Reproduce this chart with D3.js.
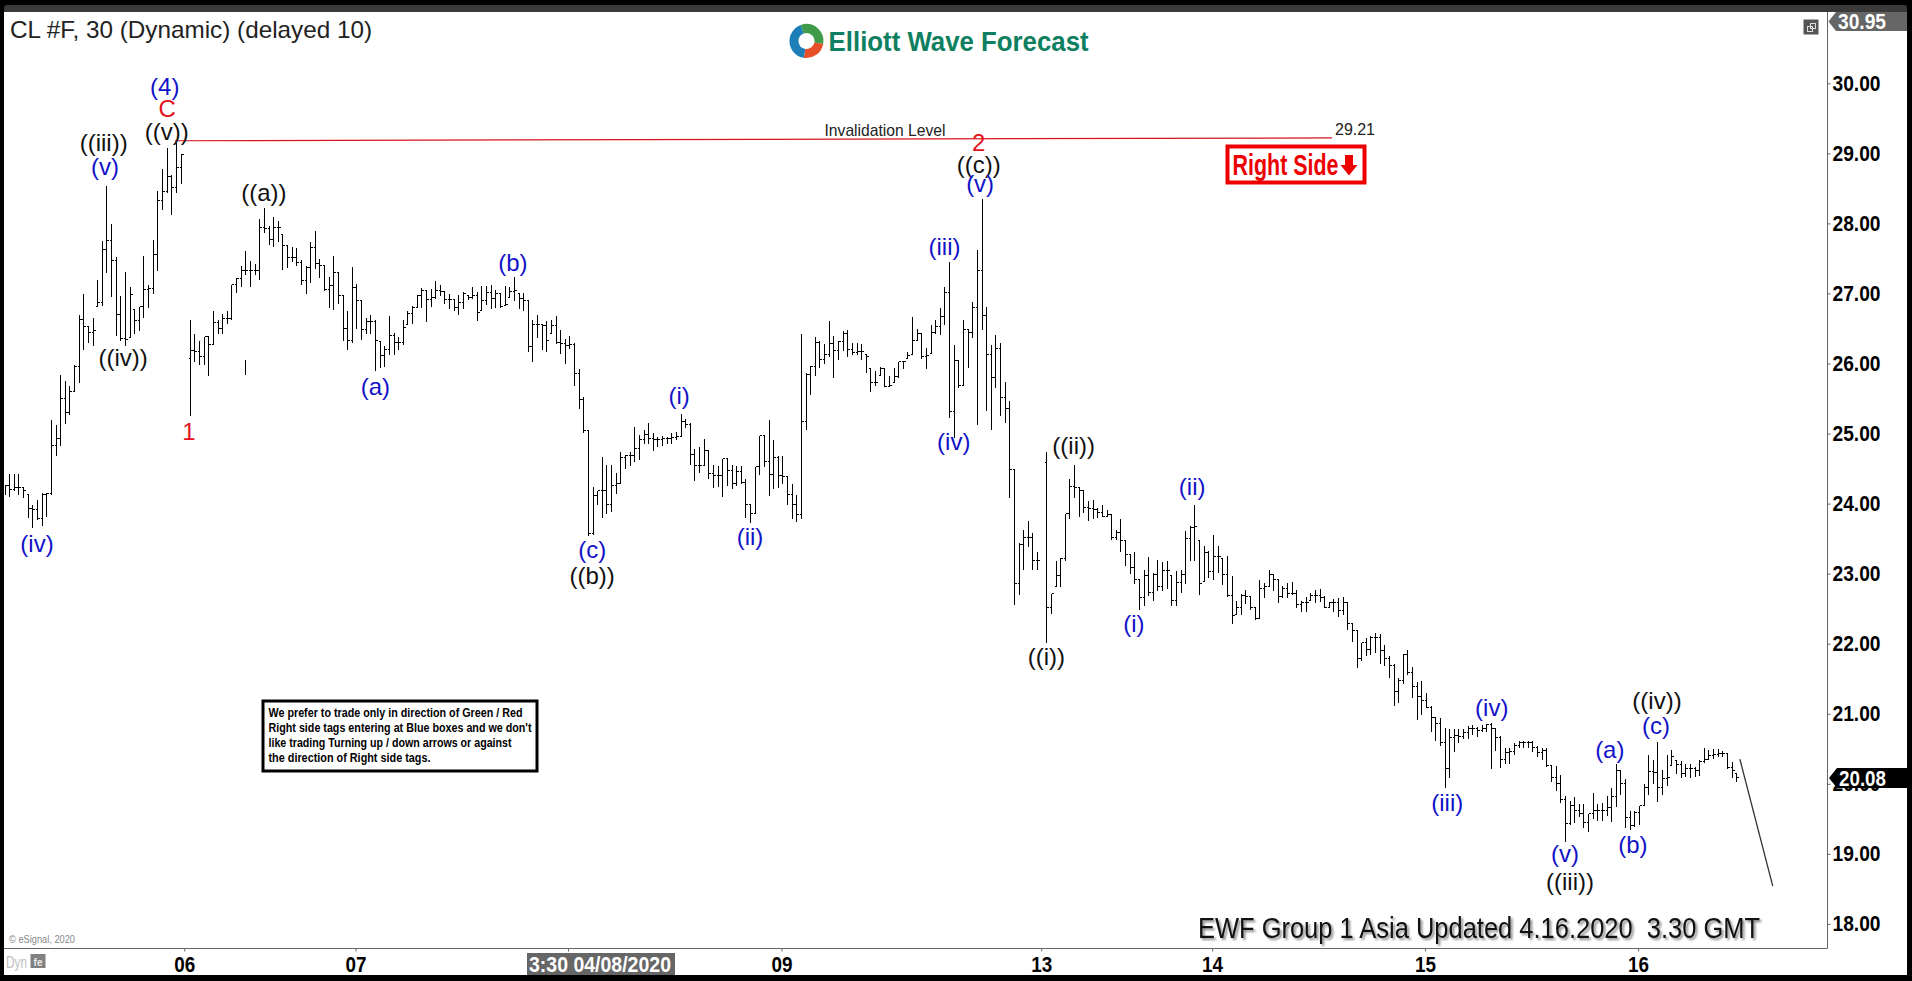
<!DOCTYPE html>
<html><head><meta charset="utf-8">
<script src="https://cdnjs.cloudflare.com/ajax/libs/d3/7.8.5/d3.min.js"></script>
<style>html,body{margin:0;padding:0;background:#000;overflow:hidden}svg{display:block}text{font-family:"Liberation Sans",Arial,sans-serif}</style>
</head><body><svg id="c" width="1912" height="981"></svg>
<script>
// 30-minute bars; null marks the empty weekend slot
const highs=[24.28,24.43,24.44,24.43,24.24,24.13,24.00,24.07,24.16,24.17,
25.21,25.14,25.85,25.76,25.70,26.00,26.71,27.00,26.54,26.66,
27.20,27.76,28.55,28.01,27.53,26.98,27.32,27.10,26.78,26.82,
27.55,27.14,27.78,28.48,28.79,29.09,28.71,29.16,29.00,null,
26.64,26.43,26.34,26.39,26.39,26.77,26.64,26.72,26.76,27.14,
27.23,27.41,27.62,27.48,27.43,28.08,28.23,27.98,28.11,28.05,
27.85,27.69,27.68,27.67,27.49,27.41,27.75,27.91,27.50,27.42,
27.25,27.55,27.31,26.99,26.76,27.39,27.15,26.92,26.67,26.71,
26.64,26.32,26.26,26.69,26.45,26.39,26.63,26.76,26.83,26.99,
27.09,27.06,27.08,27.19,27.13,27.03,27.00,26.93,26.99,27.04,
26.98,27.11,27.04,27.12,27.12,27.14,27.07,27.01,27.12,27.10,
27.25,27.00,27.02,26.92,26.64,26.70,26.57,26.62,26.63,26.69,
26.49,26.36,26.41,26.30,25.93,25.53,25.05,24.25,24.20,24.68,
24.57,24.57,24.45,24.75,24.71,24.75,25.11,25.00,25.07,25.16,
25.02,24.97,24.98,24.96,25.02,25.04,25.29,25.22,25.17,24.79,
24.82,24.93,24.77,24.57,24.55,24.65,24.65,24.56,24.55,24.55,
24.37,24.00,24.53,24.98,24.98,25.21,24.92,24.69,24.70,24.40,
24.29,24.14,26.44,25.88,25.98,26.39,26.34,26.29,26.62,26.41,
26.34,26.48,26.49,26.30,26.30,26.29,26.13,25.93,25.91,25.96,
25.95,25.83,25.95,26.03,26.05,26.18,26.68,26.50,26.45,26.24,
26.56,26.63,26.81,27.10,27.46,26.28,26.05,26.64,26.50,26.89,
27.64,28.36,26.82,26.28,26.42,26.30,25.75,25.48,24.49,23.45,
23.64,23.76,23.60,23.32,null,24.75,22.73,23.20,23.24,23.87,
24.37,24.57,24.25,24.20,24.05,24.07,23.95,24.00,23.92,23.85,
23.64,23.80,23.48,23.28,23.33,22.93,23.07,23.25,23.03,23.21,
23.18,23.19,22.98,23.05,23.07,23.62,23.69,24.00,23.48,23.41,
23.34,23.56,23.41,23.22,23.27,22.98,22.63,22.72,22.78,22.69,
22.53,22.93,22.88,23.07,23.00,22.92,22.84,22.88,22.89,22.78,
22.62,22.68,22.74,22.78,22.80,22.69,22.61,22.65,22.66,22.68,
22.61,22.30,22.19,22.03,22.10,22.12,22.16,22.15,22.00,21.84,
21.72,21.52,21.87,21.92,21.68,21.47,21.48,21.31,21.13,20.97,
20.95,20.81,20.80,20.79,20.79,20.79,20.84,20.86,20.82,20.86,
20.87,20.88,20.80,20.69,20.53,20.53,20.59,20.63,20.63,20.63,
20.62,20.55,20.52,20.52,20.27,20.27,20.14,19.84,19.77,19.82,
19.73,19.73,19.59,19.88,19.72,19.74,19.84,19.96,20.29,20.21,
20.08,19.63,19.62,19.70,20.01,20.42,20.36,20.61,20.21,20.43,
20.49,20.34,20.34,20.30,20.29,20.25,20.36,20.53,20.49,20.51,
20.51,20.48,20.46,20.32,20.16];
const lows=[24.14,24.11,24.20,24.13,24.09,23.81,23.66,23.78,23.70,23.83,
24.14,24.69,24.83,25.15,25.28,25.61,25.74,26.21,26.31,26.27,
26.82,26.83,27.31,26.97,26.40,26.33,26.26,26.38,26.43,26.48,
26.66,26.81,27.01,27.34,28.20,28.45,28.14,28.45,28.58,null,
25.27,26.03,26.00,26.00,25.83,26.28,26.43,26.43,26.58,26.64,
27.02,27.10,27.28,27.11,27.28,27.21,27.88,27.70,27.68,27.75,
27.35,27.38,27.47,27.41,27.14,27.01,27.17,27.36,27.24,27.05,
26.81,26.78,26.86,26.33,26.20,26.31,26.50,26.35,26.43,26.44,
25.91,25.95,25.97,26.14,26.13,26.21,26.28,26.57,26.58,26.81,
26.81,26.61,26.82,26.93,26.98,26.86,26.79,26.76,26.71,26.79,
26.92,26.93,26.62,26.76,26.85,26.79,26.80,26.80,26.83,26.95,
26.91,26.79,26.77,26.18,26.04,26.38,26.21,26.18,26.43,26.29,
26.15,26.01,26.22,25.69,25.37,25.02,23.55,23.57,24.00,23.81,
23.86,23.89,24.15,24.29,24.51,24.55,24.61,24.64,24.86,24.87,
24.76,24.82,24.84,24.86,24.86,24.92,24.97,25.09,24.57,24.33,
24.45,24.55,24.36,24.24,24.25,24.11,24.26,24.22,24.26,24.29,
23.81,23.74,23.86,24.42,24.53,24.12,24.22,24.23,24.30,23.99,
23.80,23.75,23.79,25.07,25.57,25.83,25.95,26.01,26.10,25.81,
26.07,26.19,26.11,26.14,26.14,26.06,25.88,25.61,25.69,25.83,
25.68,25.68,25.74,25.81,25.94,26.08,26.13,26.34,26.08,25.94,
26.15,26.43,26.42,26.57,25.24,24.95,25.67,25.69,25.95,26.38,
25.14,26.49,25.34,25.07,25.67,25.27,25.16,24.10,22.57,22.71,
23.07,23.39,23.07,23.07,null,22.02,22.44,22.83,22.83,23.19,
23.80,24.10,23.83,23.88,23.76,23.79,23.81,23.82,23.82,23.50,
23.50,23.33,23.13,23.01,22.86,22.50,22.55,22.69,22.63,22.76,
22.76,22.79,22.55,22.55,22.74,22.86,23.20,23.19,22.71,22.89,
22.95,22.92,23.03,22.85,22.68,22.30,22.42,22.42,22.58,22.49,
22.35,22.36,22.67,22.82,22.77,22.60,22.66,22.67,22.71,22.52,
22.46,22.47,22.62,22.60,22.61,22.52,22.52,22.47,22.39,22.42,
22.21,22.04,21.67,21.77,21.84,21.85,21.88,21.72,21.70,21.53,
21.13,21.17,21.44,21.57,21.24,20.93,21.00,21.09,20.76,20.62,
20.56,19.95,20.10,20.47,20.59,20.66,20.66,20.71,20.68,20.76,
20.76,20.23,20.48,20.24,20.30,20.30,20.43,20.52,20.53,20.53,
20.47,20.39,20.36,20.25,20.04,19.91,19.74,19.19,19.43,19.46,
19.54,19.38,19.33,19.51,19.48,19.48,19.55,19.47,19.68,19.86,
19.38,19.36,19.40,19.43,19.70,19.86,20.01,19.76,19.86,19.98,
20.27,20.16,20.10,20.11,20.10,20.11,20.12,20.31,20.35,20.37,
20.40,20.40,20.22,20.09,20.04];
const closes=[24.26,24.21,24.23,24.24,24.20,23.94,23.93,23.80,24.14,24.15,
24.83,24.93,25.51,25.31,25.61,25.97,26.63,26.54,26.45,26.48,
26.88,27.64,27.76,27.48,26.71,26.37,26.35,26.99,26.62,26.82,
27.07,27.08,27.57,28.34,28.46,28.68,28.52,28.80,28.99,null,
26.19,26.18,26.10,26.39,26.28,26.59,26.51,26.65,26.65,27.13,
27.22,27.33,27.34,27.34,27.34,27.95,27.93,27.78,27.95,27.95,
27.69,27.52,27.52,27.45,27.19,27.38,27.66,27.43,27.41,27.07,
27.12,27.31,26.98,26.51,26.34,27.09,26.91,26.49,26.60,26.60,
26.33,26.12,26.21,26.40,26.31,26.31,26.52,26.72,26.81,26.98,
27.05,26.92,26.95,27.05,27.03,26.92,26.92,26.80,26.88,27.01,
26.95,26.98,26.74,26.91,27.02,26.93,27.01,26.82,26.85,27.04,
27.05,26.93,26.91,26.25,26.57,26.56,26.55,26.34,26.55,26.31,
26.29,26.27,26.28,25.87,25.50,25.05,23.58,24.12,24.20,24.19,
24.00,24.26,24.30,24.66,24.69,24.69,24.80,24.92,24.99,24.93,
24.92,24.92,24.93,24.94,24.95,24.96,25.18,25.14,24.71,24.55,
24.55,24.77,24.44,24.41,24.41,24.65,24.48,24.29,24.46,24.31,
24.00,23.86,24.53,24.98,24.61,24.42,24.67,24.41,24.40,24.14,
24.00,23.85,25.18,25.85,25.97,26.30,26.07,26.14,26.29,26.19,
26.32,26.43,26.20,26.17,26.18,26.18,26.10,25.73,25.74,25.94,
25.68,25.69,25.82,26.03,26.03,26.12,26.34,26.43,26.11,26.12,
26.45,26.53,26.68,27.02,25.32,26.05,25.70,26.49,26.45,26.80,
27.34,26.69,26.14,25.81,26.22,25.52,25.37,24.49,22.87,23.42,
23.53,23.53,23.19,23.19,null,22.52,22.72,22.98,23.23,23.87,
24.25,24.24,24.19,23.95,23.94,23.93,23.88,23.83,23.85,23.52,
23.59,23.48,23.28,23.09,22.93,22.66,22.98,22.74,23.00,22.83,
23.05,23.05,22.63,22.88,23.00,23.51,23.67,23.68,22.87,23.31,
23.04,23.25,23.25,23.00,22.70,22.41,22.53,22.69,22.68,22.52,
22.36,22.79,22.82,22.99,22.92,22.68,22.80,22.72,22.73,22.57,
22.59,22.59,22.69,22.69,22.67,22.53,22.59,22.60,22.48,22.59,
22.29,22.19,21.79,22.02,21.93,22.10,22.09,21.91,21.79,21.70,
21.33,21.48,21.86,21.60,21.40,21.25,21.20,21.10,20.95,20.87,
20.60,20.22,20.67,20.69,20.68,20.74,20.79,20.79,20.77,20.79,
20.86,20.80,20.67,20.35,20.46,20.47,20.55,20.60,20.60,20.59,
20.53,20.46,20.48,20.27,20.10,20.01,19.78,19.44,19.70,19.62,
19.59,19.46,19.59,19.62,19.63,19.63,19.67,19.82,20.20,20.01,
19.52,19.41,19.60,19.70,19.96,20.18,20.17,19.96,20.08,20.09,
20.39,20.28,20.15,20.22,20.22,20.20,20.32,20.36,20.41,20.42,
20.44,20.44,20.24,20.20,20.09];
// opening ticks of the two bars that follow a weekend gap (other opens sit on the previous close)
const gapOpens=new Map([[40,26.08],[225,24.60]]);
const strayBar={bar:52,high:26.06,low:25.85};

const priceTicks=[30,29,28,27,26,25,24,23,22,21,20,19,18];
const dayTicks=[38.8,75.8,167.8,223.9,260.8,306.8,352.8];
const dayLabels=["06","07","09","13","14","15","16"];
const hairlineTick=121.8;

const invalidationLevel=[{bar:36.8,price:29.18},{bar:286.7,price:29.22}];
const projection=[{bar:374.8,price:20.35},{bar:381.9,price:18.54}];

// wave labels: text, bar position, price position, colour class
const waveLabels=[
["(4)",34.6,29.93,"b"],["C",35.1,29.62,"r"],["((v))",35.0,29.30,"k"],
["((iii))",21.4,29.13,"k"],["(v)",21.7,28.79,"b"],["((iv))",25.6,26.06,"k"],
["((a))",56.0,28.42,"k"],["(b)",109.8,27.43,"b"],["(a)",80.1,25.66,"b"],["1",39.8,25.01,"r"],
["2",210.4,29.13,"r"],["((c))",210.4,28.82,"k"],["(v)",210.7,28.55,"b"],
["(iii)",203,27.65,"b"],["(iv)",205,24.87,"b"],["(i)",145.7,25.52,"b"],
["((ii))",230.9,24.81,"k"],["(ii)",256.5,24.22,"b"],["(iv)",7,23.41,"b"],
["(c)",126.9,23.32,"b"],["((b))",126.9,22.95,"k"],["(ii)",161,23.51,"b"],
["((i))",225,21.80,"k"],["(i)",243.9,22.27,"b"],["(iii)",311.6,19.71,"b"],
["(iv)",321.2,21.07,"b"],["(v)",337,18.98,"b"],["((iii))",338.1,18.58,"k"],
["(a)",346.7,20.47,"b"],["(c)",356.7,20.81,"b"],["((iv))",356.9,21.17,"k"],["(b)",351.7,19.11,"b"]];
const labelColours={b:"#1212c8",r:"#e4101c",k:"#111"};

const noteLines=["We prefer to trade only in direction of Green / Red",
"Right side tags entering at Blue boxes and we don't",
"like trading Turning up / down arrows or against",
"the direction of Right side tags."];

const svg=d3.select("#c");
const x=d3.scaleLinear().domain([0,374]).range([4.6,1736.2]);
const y=d3.scaleLinear().domain([30,18]).range([83.3,923.9]);
const px=v=>Math.round(x(v))+.5, py=v=>Math.round(y(v))+.5;

// frame and panels
svg.append("rect").attr("width",1912).attr("height",981).attr("fill","#000");
svg.append("rect").attr("x",4).attr("y",5).attr("width",1903).attr("height",8).attr("rx",3).attr("fill","#3a3a3a");
svg.append("rect").attr("x",4).attr("y",12).attr("width",1903).attr("height",963).attr("fill","#fff");

// title and logo
svg.append("text").attr("x",10).attr("y",38).attr("font-size",24).attr("fill","#222")
 .attr("textLength",362).attr("lengthAdjust","spacingAndGlyphs").text("CL #F, 30 (Dynamic) (delayed 10)");
const logo=svg.append("g").attr("transform","translate(806.5,41)");
const logoArc=d3.arc().innerRadius(8).outerRadius(17);
[["#3f9a4a",-0.35,1.75],["#e8502a",1.75,3.3],["#1d7fb8",3.3,5.93]].forEach(s=>
 logo.append("path").attr("d",logoArc({startAngle:s[1],endAngle:s[2]})).attr("fill",s[0]));
svg.append("text").attr("x",828.6).attr("y",51).attr("font-size",27).attr("font-weight","bold").attr("fill","#0e7f60")
 .attr("textLength",260).attr("lengthAdjust","spacingAndGlyphs").text("Elliott Wave Forecast");

// invalidation level
const line=d3.line().x(d=>x(d.bar)).y(d=>y(d.price));
svg.append("path").attr("d",line(invalidationLevel)).attr("stroke","#d8141c").attr("stroke-width",1.2).attr("fill","none");
svg.append("text").attr("x",824.5).attr("y",135.5).attr("font-size",17).attr("fill","#222")
 .attr("textLength",121).attr("lengthAdjust","spacingAndGlyphs").text("Invalidation Level");
svg.append("text").attr("x",1335).attr("y",135).attr("font-size",17).attr("fill","#222")
 .attr("textLength",40).attr("lengthAdjust","spacingAndGlyphs").text("29.21");

// Right Side tag
svg.append("rect").attr("x",1227.5).attr("y",146.5).attr("width",137).attr("height",36).attr("fill","#fff").attr("stroke","#ee0000").attr("stroke-width",4);
svg.append("text").attr("x",1232.5).attr("y",174.5).attr("font-size",29).attr("font-weight","bold").attr("fill","#ee0000")
 .attr("textLength",106).attr("lengthAdjust","spacingAndGlyphs").text("Right Side");
svg.append("path").attr("d","M1345 155h8v10h4.5l-8.5 10.5l-8.5-10.5h4.5z").attr("fill","#ee0000");

// OHLC bars
const bars=highs.map((h,i)=>({i,h,l:lows[i],c:closes[i],o:gapOpens.has(i)?gapOpens.get(i):closes[i-1]}))
 .filter(d=>d.h!==null);
const bg=svg.append("g").attr("stroke","#000").attr("stroke-width",1).attr("shape-rendering","crispEdges");
const sel=bg.selectAll("g").data(bars).join("g");
sel.append("line").attr("x1",d=>px(d.i)).attr("x2",d=>px(d.i)).attr("y1",d=>py(d.h)).attr("y2",d=>py(d.l));
sel.filter(d=>d.o!=null).append("line").attr("x1",d=>px(d.i)-2).attr("x2",d=>px(d.i))
 .attr("y1",d=>py(Math.min(d.h,Math.max(d.l,d.o)))).attr("y2",d=>py(Math.min(d.h,Math.max(d.l,d.o))));
sel.append("line").attr("x1",d=>px(d.i)).attr("x2",d=>px(d.i)+2).attr("y1",d=>py(d.c)).attr("y2",d=>py(d.c));
bg.append("line").attr("x1",px(strayBar.bar)).attr("x2",px(strayBar.bar)).attr("y1",py(strayBar.high)).attr("y2",py(strayBar.low));

// projection
svg.append("path").attr("d",line(projection)).attr("stroke","#333").attr("stroke-width",1.3).attr("fill","none");

// wave labels
svg.append("g").selectAll("text").data(waveLabels).join("text")
 .attr("x",d=>x(d[1])).attr("y",d=>y(d[2])).attr("dy","0.3em").attr("text-anchor","middle")
 .attr("font-size",24).attr("fill",d=>labelColours[d[3]]).text(d=>d[0]);

// note box
svg.append("rect").attr("x",263).attr("y",701).attr("width",274).attr("height",70).attr("fill","#fff").attr("stroke","#000").attr("stroke-width",3);
const noteWidths=[254,263,243,162];
svg.append("g").selectAll("text").data(noteLines).join("text")
 .attr("x",268.5).attr("y",(d,i)=>716.8+i*15.2).attr("font-size",13).attr("font-weight","bold").attr("fill","#000")
 .attr("textLength",(d,i)=>noteWidths[i]).attr("lengthAdjust","spacingAndGlyphs").text(d=>d);

// update stamp and copyright
svg.append("text").attr("x",1198).attr("y",938).attr("font-size",29).attr("fill","#111")
 .attr("textLength",562).attr("lengthAdjust","spacingAndGlyphs").style("white-space","pre")
 .style("filter","drop-shadow(2px 2px 1px #8a8a8a)").text("EWF Group 1 Asia Updated 4.16.2020  3.30 GMT");
svg.append("text").attr("x",9).attr("y",943).attr("font-size",11).attr("fill","#8a8a8a")
 .attr("textLength",66).attr("lengthAdjust","spacingAndGlyphs").text("© eSignal, 2020");

// axes
const yAxis=d3.axisRight(y).tickValues(priceTicks).tickSize(3).tickFormat(d3.format(".2f"));
const ya=svg.append("g").attr("transform","translate(1827.5,0)").call(yAxis);
ya.select(".domain").attr("d","M0,12V948.5").attr("stroke","#666");
ya.selectAll("line").attr("stroke","#666");
ya.selectAll("text").attr("x",5).attr("font-size",22).attr("font-weight","bold").attr("fill","#000")
 .attr("font-family",'"Liberation Sans",Arial,sans-serif').attr("textLength",48).attr("lengthAdjust","spacingAndGlyphs");

const xAxis=d3.axisBottom(x).tickValues(dayTicks).tickSize(3).tickFormat((d,i)=>dayLabels[i]);
const xa=svg.append("g").attr("transform","translate(0,948.5)").call(xAxis);
xa.select(".domain").attr("d","M4,0H1827.5").attr("stroke","#666");
xa.selectAll("line").attr("stroke","#666");
xa.selectAll("text").attr("y",8).attr("font-size",22).attr("font-weight","bold").attr("fill","#000")
 .attr("font-family",'"Liberation Sans",Arial,sans-serif').attr("dy","0.71em").attr("textLength",21).attr("lengthAdjust","spacingAndGlyphs");
svg.append("line").attr("x1",x(hairlineTick)).attr("x2",x(hairlineTick)).attr("y1",948.5).attr("y2",951.5).attr("stroke","#666");

// crosshair date tag
svg.append("rect").attr("x",527).attr("y",953).attr("width",148).attr("height",22).attr("fill","#666");
svg.append("text").attr("x",529).attr("y",971.5).attr("font-size",22).attr("font-weight","bold").attr("fill","#fff")
 .attr("textLength",142).attr("lengthAdjust","spacingAndGlyphs").text("3:30 04/08/2020");

// right-hand price tags
svg.append("path").attr("d","M1828.5 21.5l7.5-9.5h71v19h-71z").attr("fill","#666");
svg.append("text").attr("x",1838).attr("y",29).attr("font-size",22).attr("font-weight","bold").attr("fill","#fff")
 .attr("textLength",48).attr("lengthAdjust","spacingAndGlyphs").text("30.95");
svg.append("path").attr("d","M1829 778l8-10h70v20h-70z").attr("fill","#000");
svg.append("text").attr("x",1839).attr("y",786).attr("font-size",22).attr("font-weight","bold").attr("fill","#fff")
 .attr("textLength",47).attr("lengthAdjust","spacingAndGlyphs").text("20.08");

// window icon
svg.append("rect").attr("x",1803.5).attr("y",19.5).attr("width",15).attr("height",15).attr("fill","#555");
svg.append("rect").attr("x",1807.5).attr("y",26.5).attr("width",5).attr("height",5).attr("fill","none").attr("stroke","#ddd");
svg.append("rect").attr("x",1810.5).attr("y",23.5).attr("width",5).attr("height",5).attr("fill","none").attr("stroke","#ddd");

// Dyn and lock icon
svg.append("text").attr("x",6).attr("y",968).attr("font-size",16).attr("fill","#bdbdbd")
 .attr("textLength",21).attr("lengthAdjust","spacingAndGlyphs").text("Dyn");
svg.append("rect").attr("x",30.5).attr("y",954).attr("width",15).attr("height",14).attr("fill","#808080");
svg.append("text").attr("x",38).attr("y",965.5).attr("text-anchor","middle").attr("font-size",10).attr("font-weight","bold").attr("fill","#eee").text("fe");
</script></body></html>
